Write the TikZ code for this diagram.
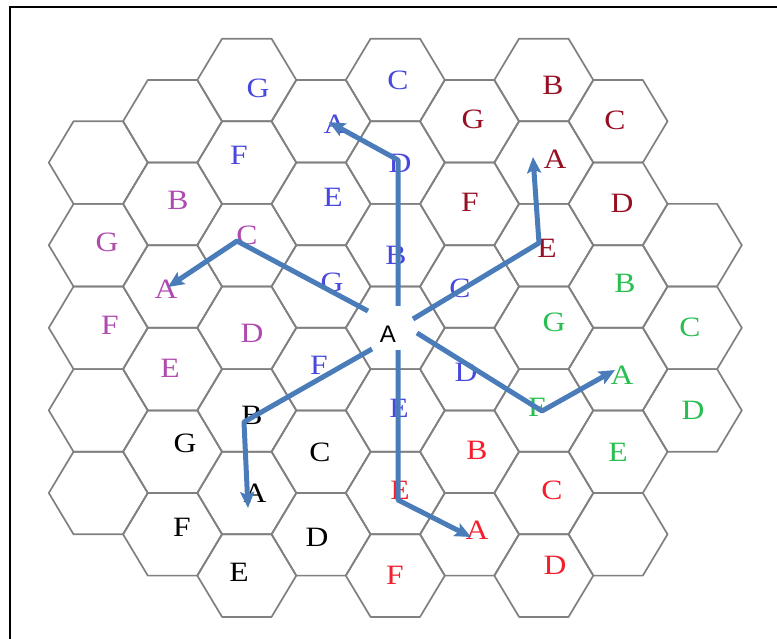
\documentclass[tikz,border=0pt]{standalone}
\usepackage{fontspec}
\setmainfont[FakeStretch=1.13]{Liberation Serif}
\newfontfamily\sansA{Liberation Sans}
\usetikzlibrary{arrows.meta}
\definecolor{hexgray}{RGB}{128,128,128}
\definecolor{cblue}{RGB}{72,72,222}
\definecolor{cpurple}{RGB}{175,75,175}
\definecolor{cdred}{RGB}{150,15,35}
\definecolor{cgreen}{RGB}{40,190,80}
\definecolor{cred}{RGB}{245,30,45}
\definecolor{arrowblue}{RGB}{74,124,186}
\begin{document}
\begin{tikzpicture}[x=1pt,y=-1pt,
  hexline/.style={draw=hexgray,line width=1.7pt,line join=round},
  lbl/.style={inner sep=0pt,font=\fontsize{28}{28}\selectfont},
  route/.style={draw=arrowblue,line width=5pt,line join=round,-{Stealth[length=16pt,width=14pt,inset=3pt]}}
]
\useasboundingbox (0,0) rectangle (777,639);
\draw[line width=2pt] (10.3,639) -- (10.3,7.3) -- (777,7.3);
% hex grid
\foreach \c/\ks/\ke in {0/1/5,1/0/5,2/0/6,3/0/5,4/0/6,5/0/5,6/0/6,7/0/5,8/2/4} {
  \pgfmathsetmacro\cx{98.3+74.25*\c}
  \foreach \k in {\ks,...,\ke} {
    \pgfmathsetmacro\cy{80+41.3*mod(\c,2)+82.6*\k}
    \draw[hexline] (\cx-49.5,\cy) -- ++(24.75,-41.3) -- ++(49.5,0) -- ++(24.75,41.3) -- ++(-24.75,41.3) -- ++(-49.5,0) -- cycle;
  }
}
% blue labels
\node[lbl,text=cblue] (bG1) at (258,88) {G};
\node[lbl,text=cblue] (bC1) at (398,80) {C};
\node[lbl,text=cblue] (bA) at (335,124) {A};
\node[lbl,text=cblue] (bD1) at (400,163) {D};
\node[lbl,text=cblue] (bF1) at (239,155) {F};
\node[lbl,text=cblue] (bE1) at (333,197) {E};
\node[lbl,text=cblue] (bB) at (396,255) {B};
\node[lbl,text=cblue] (bG2) at (332,282) {G};
\node[lbl,text=cblue] (bC2) at (460,288) {C};
\node[lbl,text=cblue] (bF2) at (319,365) {F};
\node[lbl,text=cblue] (bD2) at (466,372) {D};
\node[lbl,text=cblue] (bE2) at (399,408) {E};
% purple labels
\node[lbl,text=cpurple] (pB) at (178,200) {B};
\node[lbl,text=cpurple] (pG) at (107,242) {G};
\node[lbl,text=cpurple] (pC) at (247,235) {C};
\node[lbl,text=cpurple] (pA) at (166,289) {A};
\node[lbl,text=cpurple] (pF) at (110,325) {F};
\node[lbl,text=cpurple] (pD) at (252,333) {D};
\node[lbl,text=cpurple] (pE) at (170,368) {E};
% dark red labels
\node[lbl,text=cdred] (dB) at (553,85) {B};
\node[lbl,text=cdred] (dG) at (473,119) {G};
\node[lbl,text=cdred] (dC) at (615,120) {C};
\node[lbl,text=cdred] (dA) at (555,159) {A};
\node[lbl,text=cdred] (dF) at (470,202) {F};
\node[lbl,text=cdred] (dD) at (622,203) {D};
\node[lbl,text=cdred] (dE) at (547,248) {E};
% green labels
\node[lbl,text=cgreen] (gB) at (625,283) {B};
\node[lbl,text=cgreen] (gG) at (554,322) {G};
\node[lbl,text=cgreen] (gC) at (690,327) {C};
\node[lbl,text=cgreen] (gA) at (622,375) {A};
\node[lbl,text=cgreen] (gF) at (537,407) {F};
\node[lbl,text=cgreen] (gD) at (693,410) {D};
\node[lbl,text=cgreen] (gE) at (618,452) {E};
% red labels
\node[lbl,text=cred] (rB) at (477,450) {B};
\node[lbl,text=cred] (rE) at (400,490) {E};
\node[lbl,text=cred] (rC) at (552,490) {C};
\node[lbl,text=cred] (rA) at (477,530) {A};
\node[lbl,text=cred] (rD) at (555,565) {D};
\node[lbl,text=cred] (rF) at (395,575) {F};
% black labels
\node[lbl] (kB) at (252,415) {B};
\node[lbl] (kG) at (185,443) {G};
\node[lbl] (kC) at (320,452) {C};
\node[lbl] (kA) at (255,493) {A};
\node[lbl] (kF) at (182,527) {F};
\node[lbl] (kD) at (317,537) {D};
\node[lbl] (kE) at (239,572) {E};
\node[inner sep=0pt,font=\sansA\fontsize{24}{24}\selectfont] (center) at (388,334) {A};
% route points
\coordinate (u0) at (398,306); \coordinate (u1) at (398,160); \coordinate (u2) at (329,122);
\coordinate (l0) at (368,311); \coordinate (l1) at (237,241); \coordinate (l2) at (168,287);
\coordinate (r0) at (413,319); \coordinate (r1) at (539,243); \coordinate (r2) at (533,157);
\coordinate (s0) at (417,333); \coordinate (s1) at (542,411); \coordinate (s2) at (615,370);
\coordinate (d0) at (398,350); \coordinate (d1) at (398,500); \coordinate (d2) at (471,537);
\coordinate (w0) at (372,349); \coordinate (w1) at (244,422); \coordinate (w2) at (248,508);
\draw[route] (u0) -- (u1) -- (u2);
\draw[route] (l0) -- (l1) -- (l2);
\draw[route] (r0) -- (r1) -- (r2);
\draw[route] (s0) -- (s1) -- (s2);
\draw[route] (d0) -- (d1) -- (d2);
\draw[route] (w0) -- (w1) -- (w2);
\end{tikzpicture}
\end{document}
